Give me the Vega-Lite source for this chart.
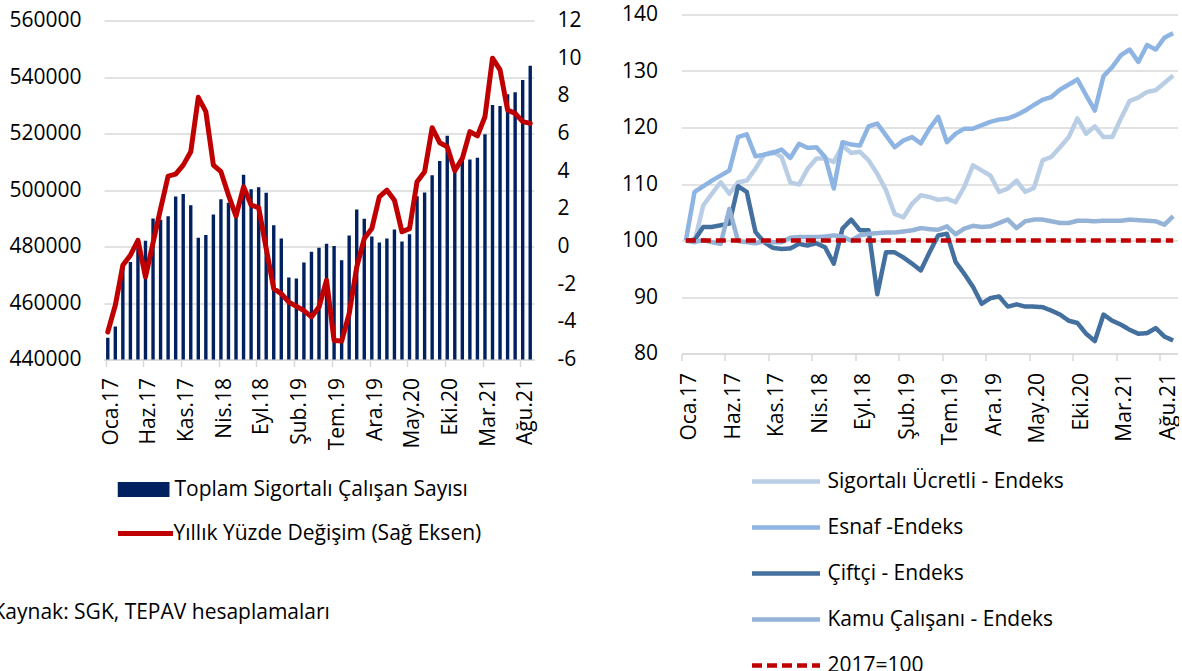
{
  "$schema": "https://vega.github.io/schema/vega-lite/v6.json",
  "background": "white",
  "padding": {"left": -8, "top": 3.5, "right": 0, "bottom": 0},
  "bounds": "flush",
  "spacing": 147.5,
  "config": {
    "view": {"stroke": null},
    "font": "Open Sans",
    "axis": {"labelFont": "Open Sans", "labelFontSize": 21, "labelColor": "#000000", "gridColor": "#D9D9D9", "gridWidth": 1.3, "domainColor": "#D9D9D9", "tickColor": "#D9D9D9", "domainWidth": 1.5, "tickWidth": 1.5},
    "legend": {"labelFont": "Open Sans", "labelFontSize": 21, "labelColor": "#000000", "padding": 0, "labelLimit": 500}
  },
  "datasets": {
    "left": [
      {"m": "Oca.17", "n": 447700, "p": -4.54},
      {"m": "Şub.17", "n": 451700, "p": -3.12},
      {"m": "Mar.17", "n": 473500, "p": -1.0},
      {"m": "Nis.17", "n": 474500, "p": -0.46},
      {"m": "May.17", "n": 481000, "p": 0.33},
      {"m": "Haz.17", "n": 482000, "p": -1.62},
      {"m": "Tem.17", "n": 489900, "p": 0.2},
      {"m": "Ağu.17", "n": 489500, "p": 2.0},
      {"m": "Eyl.17", "n": 490700, "p": 3.74},
      {"m": "Eki.17", "n": 497700, "p": 3.84},
      {"m": "Kas.17", "n": 498600, "p": 4.32},
      {"m": "Ara.17", "n": 494600, "p": 5.03},
      {"m": "Oca.18", "n": 483100, "p": 7.92},
      {"m": "Şub.18", "n": 484100, "p": 7.16},
      {"m": "Mar.18", "n": 491300, "p": 4.32},
      {"m": "Nis.18", "n": 496700, "p": 3.97},
      {"m": "May.18", "n": 495500, "p": 2.73},
      {"m": "Haz.18", "n": 493000, "p": 1.61},
      {"m": "Tem.18", "n": 505400, "p": 3.17},
      {"m": "Ağu.18", "n": 500300, "p": 2.2},
      {"m": "Eyl.18", "n": 501000, "p": 2.07},
      {"m": "Eki.18", "n": 499000, "p": -0.11},
      {"m": "Kas.18", "n": 487500, "p": -2.24},
      {"m": "Ara.18", "n": 482800, "p": -2.51},
      {"m": "Oca.19", "n": 469000, "p": -2.95},
      {"m": "Şub.19", "n": 468700, "p": -3.18},
      {"m": "Mar.19", "n": 474300, "p": -3.4},
      {"m": "Nis.19", "n": 478100, "p": -3.74},
      {"m": "May.19", "n": 479600, "p": -3.21},
      {"m": "Haz.19", "n": 481000, "p": -1.79},
      {"m": "Tem.19", "n": 480200, "p": -4.99},
      {"m": "Ağu.19", "n": 475100, "p": -5.02},
      {"m": "Eyl.19", "n": 483900, "p": -3.57},
      {"m": "Eki.19", "n": 493100, "p": -1.09},
      {"m": "Kas.19", "n": 489800, "p": 0.42},
      {"m": "Ara.19", "n": 483500, "p": 0.95},
      {"m": "Oca.20", "n": 481400, "p": 2.64},
      {"m": "Şub.20", "n": 482800, "p": 2.99},
      {"m": "Mar.20", "n": 486000, "p": 2.46},
      {"m": "Nis.20", "n": 481800, "p": 0.78},
      {"m": "May.20", "n": 484300, "p": 0.95},
      {"m": "Haz.20", "n": 497800, "p": 3.44},
      {"m": "Tem.20", "n": 499100, "p": 3.97},
      {"m": "Ağu.20", "n": 505200, "p": 6.31},
      {"m": "Eyl.20", "n": 510300, "p": 5.51},
      {"m": "Eki.20", "n": 519200, "p": 5.3},
      {"m": "Kas.20", "n": 508500, "p": 4.02},
      {"m": "Ara.20", "n": 510800, "p": 4.68},
      {"m": "Oca.21", "n": 510800, "p": 6.1},
      {"m": "Şub.21", "n": 511400, "p": 5.87},
      {"m": "Mar.21", "n": 519700, "p": 6.89},
      {"m": "Nis.21", "n": 530100, "p": 10.0},
      {"m": "May.21", "n": 529700, "p": 9.38},
      {"m": "Haz.21", "n": 533900, "p": 7.25},
      {"m": "Tem.21", "n": 534600, "p": 7.07},
      {"m": "Ağu.21", "n": 538900, "p": 6.63},
      {"m": "Eyl.21", "n": 544000, "p": 6.54}
    ],
    "right": [
      {"m": "Oca.17", "u": 100, "e": 100, "c": 100, "k": 100, "b": 100},
      {"m": "Şub.17", "u": 99.8, "e": 108.6, "c": 100.1, "k": 99.7, "b": 100},
      {"m": "Mar.17", "u": 106.2, "e": 109.6, "c": 102.4, "k": 100.1, "b": 100},
      {"m": "Nis.17", "u": 108.3, "e": 110.6, "c": 102.4, "k": 99.7, "b": 100},
      {"m": "May.17", "u": 110.3, "e": 111.5, "c": 102.7, "k": 99.4, "b": 100},
      {"m": "Haz.17", "u": 108.3, "e": 112.4, "c": 103.0, "k": 105.6, "b": 100},
      {"m": "Tem.17", "u": 110.3, "e": 118.3, "c": 109.6, "k": 99.9, "b": 100},
      {"m": "Ağu.17", "u": 110.6, "e": 118.8, "c": 108.6, "k": 99.7, "b": 100},
      {"m": "Eyl.17", "u": 112.7, "e": 114.9, "c": 101.5, "k": 99.5, "b": 100},
      {"m": "Eki.17", "u": 115.2, "e": 115.2, "c": 99.7, "k": 99.9, "b": 100},
      {"m": "Kas.17", "u": 115.7, "e": 115.5, "c": 98.7, "k": 99.7, "b": 100},
      {"m": "Ara.17", "u": 114.8, "e": 116.1, "c": 98.5, "k": 99.7, "b": 100},
      {"m": "Oca.18", "u": 110.3, "e": 114.6, "c": 98.6, "k": 100.5, "b": 100},
      {"m": "Şub.18", "u": 109.9, "e": 117.1, "c": 99.4, "k": 100.6, "b": 100},
      {"m": "Mar.18", "u": 112.7, "e": 116.4, "c": 99.1, "k": 100.6, "b": 100},
      {"m": "Nis.18", "u": 114.5, "e": 116.5, "c": 99.5, "k": 100.6, "b": 100},
      {"m": "May.18", "u": 114.5, "e": 114.8, "c": 98.8, "k": 100.7, "b": 100},
      {"m": "Haz.18", "u": 113.9, "e": 109.2, "c": 95.9, "k": 100.9, "b": 100},
      {"m": "Tem.18", "u": 116.8, "e": 117.4, "c": 102.1, "k": 100.7, "b": 100},
      {"m": "Ağu.18", "u": 115.5, "e": 117.0, "c": 103.7, "k": 100.0, "b": 100},
      {"m": "Eyl.18", "u": 115.7, "e": 116.8, "c": 101.8, "k": 100.9, "b": 100},
      {"m": "Eki.18", "u": 114.2, "e": 120.2, "c": 101.8, "k": 101.2, "b": 100},
      {"m": "Kas.18", "u": 111.8, "e": 120.7, "c": 90.5, "k": 101.3, "b": 100},
      {"m": "Ara.18", "u": 108.9, "e": 118.6, "c": 97.9, "k": 101.4, "b": 100},
      {"m": "Oca.19", "u": 104.7, "e": 116.5, "c": 97.9, "k": 101.4, "b": 100},
      {"m": "Şub.19", "u": 104.1, "e": 117.7, "c": 97.0, "k": 101.6, "b": 100},
      {"m": "Mar.19", "u": 106.5, "e": 118.3, "c": 95.9, "k": 101.8, "b": 100},
      {"m": "Nis.19", "u": 108.0, "e": 117.2, "c": 94.7, "k": 102.2, "b": 100},
      {"m": "May.19", "u": 107.7, "e": 119.8, "c": 97.9, "k": 102.0, "b": 100},
      {"m": "Haz.19", "u": 107.2, "e": 121.9, "c": 100.9, "k": 101.9, "b": 100},
      {"m": "Tem.19", "u": 107.4, "e": 117.4, "c": 101.2, "k": 102.5, "b": 100},
      {"m": "Ağu.19", "u": 106.8, "e": 118.9, "c": 96.2, "k": 101.1, "b": 100},
      {"m": "Eyl.19", "u": 109.5, "e": 119.8, "c": 94.1, "k": 102.1, "b": 100},
      {"m": "Eki.19", "u": 113.3, "e": 119.8, "c": 91.8, "k": 102.6, "b": 100},
      {"m": "Kas.19", "u": 112.4, "e": 120.4, "c": 88.8, "k": 102.4, "b": 100},
      {"m": "Ara.19", "u": 111.5, "e": 121.0, "c": 89.8, "k": 102.5, "b": 100},
      {"m": "Oca.20", "u": 108.6, "e": 121.4, "c": 90.1, "k": 103.1, "b": 100},
      {"m": "Şub.20", "u": 109.2, "e": 121.6, "c": 88.3, "k": 103.7, "b": 100},
      {"m": "Mar.20", "u": 110.6, "e": 122.2, "c": 88.7, "k": 102.2, "b": 100},
      {"m": "Nis.20", "u": 108.6, "e": 123.0, "c": 88.3, "k": 103.4, "b": 100},
      {"m": "May.20", "u": 109.3, "e": 124.0, "c": 88.3, "k": 103.7, "b": 100},
      {"m": "Haz.20", "u": 114.2, "e": 124.9, "c": 88.2, "k": 103.7, "b": 100},
      {"m": "Tem.20", "u": 114.8, "e": 125.4, "c": 87.6, "k": 103.4, "b": 100},
      {"m": "Ağu.20", "u": 116.5, "e": 126.7, "c": 86.9, "k": 103.1, "b": 100},
      {"m": "Eyl.20", "u": 118.3, "e": 127.6, "c": 85.8, "k": 103.1, "b": 100},
      {"m": "Eki.20", "u": 121.6, "e": 128.5, "c": 85.4, "k": 103.5, "b": 100},
      {"m": "Kas.20", "u": 118.9, "e": 125.7, "c": 83.5, "k": 103.5, "b": 100},
      {"m": "Ara.20", "u": 120.2, "e": 123.0, "c": 82.2, "k": 103.4, "b": 100},
      {"m": "Oca.21", "u": 118.3, "e": 129.1, "c": 86.9, "k": 103.5, "b": 100},
      {"m": "Şub.21", "u": 118.3, "e": 130.7, "c": 85.8, "k": 103.5, "b": 100},
      {"m": "Mar.21", "u": 121.6, "e": 132.8, "c": 85.1, "k": 103.5, "b": 100},
      {"m": "Nis.21", "u": 124.7, "e": 133.8, "c": 84.2, "k": 103.7, "b": 100},
      {"m": "May.21", "u": 125.3, "e": 131.6, "c": 83.5, "k": 103.6, "b": 100},
      {"m": "Haz.21", "u": 126.3, "e": 134.6, "c": 83.6, "k": 103.5, "b": 100},
      {"m": "Tem.21", "u": 126.6, "e": 133.8, "c": 84.5, "k": 103.4, "b": 100},
      {"m": "Ağu.21", "u": 127.9, "e": 135.9, "c": 83.0, "k": 102.8, "b": 100},
      {"m": "Eyl.21", "u": 129.2, "e": 136.7, "c": 82.3, "k": 104.3, "b": 100}
    ]
  },
  "hconcat": [
    {
      "width": 430,
      "height": 345,
      "data": {"name": "left"},
      "title": {"text": "Kaynak: SGK, TEPAV hesaplamaları", "orient": "bottom", "anchor": "start", "frame": "group", "dx": -111.5, "offset": 152, "fontSize": 21, "font": "Open Sans", "fontWeight": "normal", "color": "#000000"},
      "encoding": {
        "x": {
          "field": "m", "type": "ordinal", "sort": null,
          "scale": {"paddingInner": 0.55, "paddingOuter": 0.275},
          "axis": {"title": null, "values": ["Oca.17", "Haz.17", "Kas.17", "Nis.18", "Eyl.18", "Şub.19", "Tem.19", "Ara.19", "May.20", "Eki.20", "Mar.21", "Ağu.21"], "bandPosition": 0, "labelOffset": 3.8, "labelAngle": -90, "tickSize": 7, "labelPadding": 11, "grid": false}
        }
      },
      "layer": [
        {
          "mark": {"type": "bar", "clip": true},
          "encoding": {
            "y": {"field": "n", "type": "quantitative", "scale": {"domain": [440000, 562124], "zero": false, "nice": false},
              "axis": {"title": null, "values": [440000, 460000, 480000, 500000, 520000, 540000, 560000], "labelExpr": "'' + datum.value", "ticks": false, "domain": false, "labelPadding": 23, "grid": true}},
            "fill": {"datum": "Toplam Sigortalı Çalışan Sayısı", "scale": {"range": ["#002060"]},
              "legend": {"title": null, "orient": "none", "legendX": 13.5, "legendY": 465, "symbolType": "M-1,-0.29H1V0.29H-1Z", "symbolSize": 2704, "symbolStrokeWidth": 0, "clipHeight": 20, "labelOffset": 5}}
          }
        },
        {
          "mark": {"type": "line", "strokeWidth": 5, "strokeJoin": "round", "strokeCap": "round"},
          "encoding": {
            "y": {"field": "p", "type": "quantitative", "scale": {"domain": [-6, 12.3186], "zero": false, "nice": false},
              "axis": {"title": null, "orient": "right", "values": [-6, -4, -2, 0, 2, 4, 6, 8, 10, 12], "labelExpr": "'' + datum.value", "ticks": false, "domain": false, "labelPadding": 23, "grid": false}},
            "stroke": {"datum": "Yıllık Yüzde Değişim (Sağ Eksen)", "scale": {"range": ["#C00000"]},
              "legend": {"title": null, "orient": "none", "legendX": 11.5, "legendY": 509, "symbolType": "stroke", "symbolSize": 3025, "symbolStrokeWidth": 5, "clipHeight": 20, "labelOffset": -2}}
          }
        }
      ],
      "resolve": {"scale": {"y": "independent"}}
    },
    {
      "width": 496,
      "height": 339,
      "data": {"name": "right"},
      "transform": [{"fold": ["u", "e", "c", "k", "b"], "as": ["s", "v"]}],
      "mark": {"type": "line", "strokeWidth": 4.5, "strokeJoin": "round", "strokeCap": "butt"},
      "encoding": {
        "x": {
          "field": "m", "type": "ordinal", "sort": null,
          "scale": {"type": "band", "paddingInner": 0, "paddingOuter": 0},
          "axis": {"title": null, "values": ["Oca.17", "Haz.17", "Kas.17", "Nis.18", "Eyl.18", "Şub.19", "Tem.19", "Ara.19", "May.20", "Eki.20", "Mar.21", "Ağu.21"], "bandPosition": 0, "labelOffset": 4.35, "labelAngle": -90, "tickSize": 7, "labelPadding": 12, "grid": false}
        },
        "y": {"field": "v", "type": "quantitative", "scale": {"domain": [80, 140], "zero": false, "nice": false},
          "axis": {"title": null, "values": [80, 90, 100, 110, 120, 130, 140], "ticks": false, "domain": false, "labelPadding": 24, "grid": true}},
        "color": {"field": "s", "type": "nominal",
          "scale": {"domain": ["u", "e", "c", "k", "b"], "range": ["#B9CDE5", "#8DB4E2", "#44709F", "#95B3D7", "#C00000"]},
          "legend": {"title": null, "orient": "none", "legendX": 645.5, "legendY": 457, "direction": "vertical", "symbolType": "stroke", "symbolSize": 4624, "symbolStrokeWidth": 4.5, "clipHeight": 20, "rowPadding": 25, "labelOffset": 5,
            "labelExpr": "datum.label == 'u' ? 'Sigortalı Ücretli - Endeks' : datum.label == 'e' ? 'Esnaf -Endeks' : datum.label == 'c' ? 'Çiftçi - Endeks' : datum.label == 'k' ? 'Kamu Çalışanı - Endeks' : '2017=100'"}},
        "strokeDash": {"field": "s", "type": "nominal",
          "scale": {"domain": ["u", "e", "c", "k", "b"], "range": [[1, 0], [1, 0], [1, 0], [1, 0], [10, 5]]},
          "legend": {"title": null, "orient": "none", "legendX": 645.5, "legendY": 457, "direction": "vertical", "symbolType": "stroke", "symbolSize": 4624, "symbolStrokeWidth": 4.5, "clipHeight": 20, "rowPadding": 25, "labelOffset": 5,
            "labelExpr": "datum.label == 'u' ? 'Sigortalı Ücretli - Endeks' : datum.label == 'e' ? 'Esnaf -Endeks' : datum.label == 'c' ? 'Çiftçi - Endeks' : datum.label == 'k' ? 'Kamu Çalışanı - Endeks' : '2017=100'"}}
      }
    }
  ]
}
